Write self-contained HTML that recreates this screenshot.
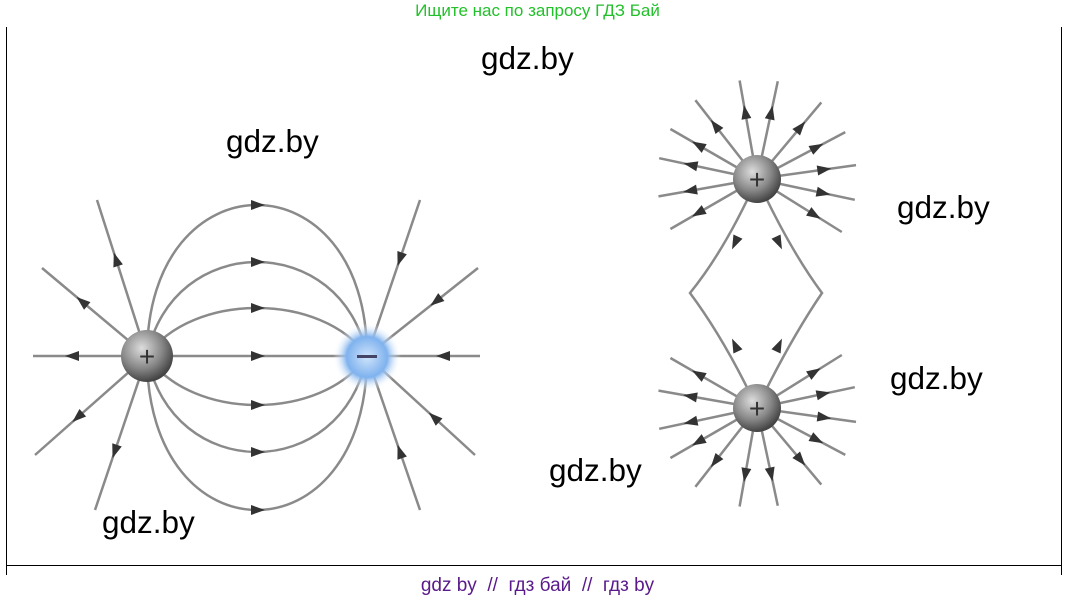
<!DOCTYPE html>
<html><head><meta charset="utf-8"><style>
html,body{margin:0;padding:0;background:#fff;}
body{width:1075px;height:601px;position:relative;overflow:hidden;font-family:"Liberation Sans",sans-serif;}
.t{position:absolute;font-size:31.5px;color:#000;}
</style></head><body>
<div style="position:absolute;left:0;width:1075px;top:1px;text-align:center;color:#22c02a;font-size:17px;">Ищите нас по запросу ГДЗ Бай</div>
<div style="position:absolute;left:6px;top:27px;width:1px;height:548px;background:#000"></div>
<div style="position:absolute;left:1061px;top:27px;width:1px;height:548px;background:#000"></div>
<div style="position:absolute;left:6px;top:565px;width:1056px;height:1px;background:#000"></div>
<svg id="s" width="1075" height="601" style="position:absolute;left:0;top:0">
<defs>
<radialGradient id="g1" cx="40%" cy="35%" r="65%"><stop offset="0" stop-color="#ddd"/><stop offset="0.6" stop-color="#888"/><stop offset="1" stop-color="#444"/></radialGradient>
<radialGradient id="g2" cx="50%" cy="50%" r="50%"><stop offset="0" stop-color="#cfe4fb"/><stop offset="0.6" stop-color="#7fb2ee"/><stop offset="1" stop-color="#fff" stop-opacity="0"/></radialGradient>
</defs>
<g id="lines" fill="none" stroke="#8a8a8a" stroke-width="2.5"></g>
<g id="arr" fill="#333"></g>
<circle cx="147" cy="356" r="26" fill="url(#g1)"/>
<text x="147" y="366" font-size="28" text-anchor="middle" fill="#333" font-family="Liberation Sans">+</text>
<circle cx="367" cy="357" r="34" fill="url(#g2)"/>
<rect x="357" y="355" width="20" height="3" fill="#446"/>
<circle cx="757" cy="179" r="24" fill="url(#g1)"/>
<text x="757" y="189" font-size="28" text-anchor="middle" fill="#333" font-family="Liberation Sans">+</text>
<circle cx="757" cy="408" r="24" fill="url(#g1)"/>
<text x="757" y="418" font-size="28" text-anchor="middle" fill="#333" font-family="Liberation Sans">+</text>
</svg>
<div class="t" style="left:481px;top:40px">gdz.by</div>
<div class="t" style="left:226px;top:123px">gdz.by</div>
<div class="t" style="left:897px;top:189px">gdz.by</div>
<div class="t" style="left:890px;top:360px">gdz.by</div>
<div class="t" style="left:549px;top:452px">gdz.by</div>
<div class="t" style="left:102px;top:504px">gdz.by</div>
<div style="position:absolute;left:0;width:1075px;top:575px;text-align:center;color:#5a1a8a;font-size:19px;">gdz by &nbsp;// &nbsp;гдз бай &nbsp;// &nbsp;гдз by</div>
<script>
var L=document.getElementById('lines'),A=document.getElementById('arr'),ns='http://www.w3.org/2000/svg';
function p(d){var e=document.createElementNS(ns,'path');e.setAttribute('d',d);L.appendChild(e);}
function ar(x,y,ang){var e=document.createElementNS(ns,'polygon');e.setAttribute('points','-7,-5 7,0 -7,5');e.setAttribute('transform','translate('+x+','+y+') rotate('+ang+')');A.appendChild(e);}
// dipole arcs (cubic for rounder shape)
[[205,0],[262,25],[308,45],[405,45],[452,25],[510,0]].forEach(function(a){var y=a[0],k=a[1];var c=356+(y-356)/0.75;p('M147,356 C'+(147+k)+','+c.toFixed(1)+' '+(367-k)+','+c.toFixed(1)+' 367,356');ar(258,y,0);});
p('M33,356 L480,356');ar(258,356,0);ar(72,356,180);ar(443,356,180);
[[42,268],[97,200],[35,455],[95,510]].forEach(function(e){p('M147,356 L'+e[0]+','+e[1]);var mx=147+(e[0]-147)*0.62,my=356+(e[1]-356)*0.62;ar(mx,my,Math.atan2(e[1]-356,e[0]-147)*180/Math.PI);});
[[478,268],[420,200],[475,455],[420,510]].forEach(function(e){p('M367,356 L'+e[0]+','+e[1]);var mx=367+(e[0]-367)*0.62,my=356+(e[1]-356)*0.62;ar(mx,my,Math.atan2(356-e[1],367-e[0])*180/Math.PI);});
function star(cx,cy,angs,len){angs.forEach(function(a){var r=a*Math.PI/180,ex=cx+len*Math.cos(r),ey=cy+len*Math.sin(r);p('M'+cx+','+cy+' L'+ex.toFixed(1)+','+ey.toFixed(1));ar(cx+len*0.68*Math.cos(r),cy+len*0.68*Math.sin(r),a);});}
star(757,179,[-100,-78,-128,-50,-150,-28,-168,-8,170,12,150,32],100);
star(757,408,[100,78,128,50,150,28,168,8,-170,-12,-150,-32],100);
p('M757,179 Q725,250 690,293 Q725,340 757,408');p('M757,179 Q790,250 822,293 Q790,340 757,408');
ar(735,243,115);ar(779,243,65);ar(735,345,-115);ar(779,345,-65);
</script>
</body></html>
